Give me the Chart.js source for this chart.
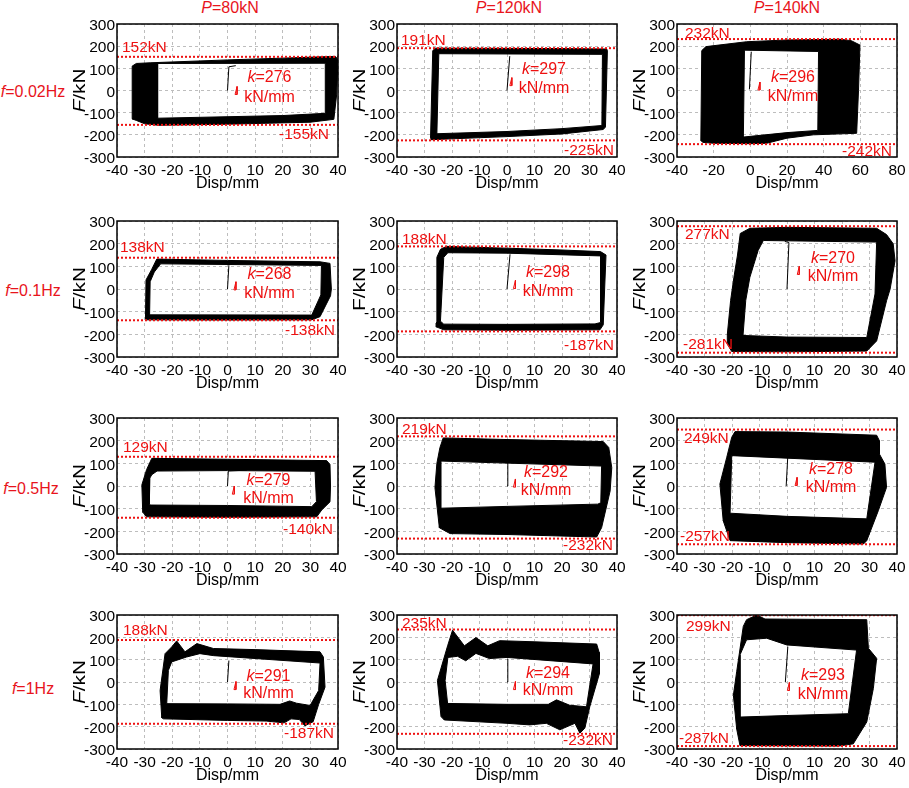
<!DOCTYPE html>
<html>
<head>
<meta charset="utf-8">
<script src="https://cdn.jsdelivr.net/npm/chart.js@4.4.1/dist/chart.umd.min.js"></script>
<style>
  body { margin: 0; background: #fff; width: 909px; height: 788px; position: relative; overflow: hidden;
         font-family: 'Liberation Sans', Arial, sans-serif; }
  canvas { position: absolute; }
  .lab { position: absolute; color: #e8141c; font-size: 16px; white-space: nowrap; transform: translate(-50%, -50%); }
</style>
</head>
<body>
<div class="lab" style="left:230px;top:8px"><i>P</i>=80kN</div>
<div class="lab" style="left:509px;top:8px"><i>P</i>=120kN</div>
<div class="lab" style="left:787px;top:8px"><i>P</i>=140kN</div>
<div class="lab" style="left:33px;top:92px"><i>f</i>=0.02Hz</div>
<div class="lab" style="left:33px;top:291px"><i>f</i>=0.1Hz</div>
<div class="lab" style="left:31px;top:489px"><i>f</i>=0.5Hz</div>
<div class="lab" style="left:33px;top:689px"><i>f</i>=1Hz</div>

<script>
// hysteresis loops of the damper, rows = frequency, columns = axial load P
const loads = [80, 120, 140];
const freqs = ['0.02', '0.1', '0.5', '1'];

// peak forces (kN) marked by the red dotted lines
const peakPos = [[152, 191, 232], [138, 188, 277], [129, 219, 249], [188, 235, 299]];
const peakNeg = [[-155, -225, -242], [-138, -187, -281], [-140, -232, -257], [-187, -232, -287]];
// initial stiffness kN/mm
const kValues = [[276, 297, 296], [268, 298, 270], [279, 292, 278], [291, 294, 293]];

// displacement axis range and tick step
const dispMin = [[-40, -40, -40], [-40, -40, -40], [-40, -40, -40], [-40, -40, -40]];
const dispMax = [[40, 40, 80], [40, 40, 40], [40, 40, 40], [40, 40, 40]];
const dispStep = [[10, 10, 20], [10, 10, 10], [10, 10, 10], [10, 10, 10]];

// outline of the black band (outer edge) and of the white hole (inner edge), [disp, force]
const p80f002Out = [[-34.5, -128], [-34.5, 110], [-33, 122], [-28, 125], [0, 138], [20, 146], [39, 154], [40, 140], [39.5, -20], [38.5, -130], [30, -143], [0, -152], [-25, -157], [-30, -150], [-33, -135]];
const p80f002In = [[-25.3, 122], [35.4, 123], [35.4, -103], [20, -113], [-25.3, -125]];
const p120f002Out = [[-27.8, -210], [-27, 180], [-26, 191], [0, 190], [20, 189], [36.3, 187], [36.5, 178], [35.8, -165], [35, -176], [20, -196], [0, -208], [-20, -218], [-27.6, -222]];
const p120f002In = [[-24.8, 166], [34.7, 163], [34.5, -158], [20, -172], [0, -185], [-25.5, -195]];
const p140f002Out = [[-27, -225], [-26.5, 180], [-24.2, 198], [-2, 220], [20, 228], [48.9, 231], [55, 225], [59.8, 205], [59, 0], [58, -193], [34.4, -200], [20, -215], [8.9, -238], [0, -240], [-20, -238], [-26, -234]];
const p140f002In = [[-3.2, 182], [37.2, 176], [36.8, -180], [20, -190], [-3.8, -210]];

const p80f01Out = [[-29.7, -132], [-29.5, 40], [-27.5, 85], [-25.6, 132], [0, 126], [33.5, 120], [37.1, 113], [37.6, 0], [37.3, -30], [33.5, -122], [30.5, -136], [0, -137], [-29.3, -136]];
const p80f01In = [[-28.2, -114], [-28, 32], [-26.5, 75], [-24.2, 111], [34, 104], [33.8, -26], [30.5, -115]];
const p120f01Out = [[-25.8, -150], [-25.5, 140], [-24.2, 175], [-22, 188], [0, 180], [20, 172], [34, 165], [36, 150], [35.5, 0], [35, -158], [33.8, -180], [0, -182], [-23, -180], [-25.5, -168]];
const p120f01In = [[-24.2, -142], [-23, 140], [-21.5, 160], [0, 158], [34, 146], [34, -148], [32, -154], [0, -156], [-23, -155]];
const p140f01Out = [[-21.7, -200], [-20.5, -50], [-19.3, 52], [-18, 150], [-17, 245], [-13.5, 268], [0, 272], [32.6, 268], [36.2, 240], [38.6, 200], [39.3, 125], [37.5, 0], [36.2, -52], [32.6, -229], [29, -274], [0, -277], [-20.1, -276], [-21.8, -240]];
const p140f01In = [[-16, -205], [-15, -50], [-13.5, 52], [-10.5, 170], [-8.6, 214], [32.6, 207], [32, -22], [29, -214], [0, -212]];

const p80f05Out = [[-30.7, -115], [-31, 5], [-29.3, 72], [-27.4, 122], [0, 118], [35.9, 112], [37.1, 95], [37.3, 0], [37.1, -70], [34.1, -106], [32.3, -136], [0, -138], [-29.3, -136]];
const p80f05In = [[-28.3, -80], [-28.1, 35], [-27.4, 50], [-25.5, 66], [0, 68], [31.7, 65], [32.2, -69], [30.5, -91], [0, -86], [-28, -84]];
const p120f05Out = [[-24.6, -184], [-26.2, -7], [-25.5, 100], [-24.4, 169], [-23.2, 212], [0, 205], [35, 196], [37, 170], [38.1, 81], [37.5, -22], [34.4, -184], [32.6, -225], [0, -214], [-20.7, -210]];
const p120f05In = [[-24.1, -98], [-24.1, 110], [34.4, 88], [34.1, -74], [33, -80], [0, -90]];
const p140f05Out = [[-23.2, -153], [-24.4, 9], [-21.9, 127], [-20.1, 215], [-18.9, 240], [0, 238], [32.6, 224], [33.6, 200], [33.6, 141], [35.6, 97], [36.2, -6], [33.2, -109], [29, -241], [27.8, -256], [0, -250], [-20.7, -241]];
const p140f05In = [[-20.7, -120], [-20.1, 134], [32, 105], [29, -145], [0, -134]];

const p80f1Out = [[-23.8, -160], [-24.4, -38], [-22.6, 127], [-20.2, 157], [-18.4, 184], [-15.4, 135], [-11.1, 172], [-5.1, 150], [10, 145], [33.5, 135], [34.7, 112], [35.3, -23], [33, -100], [31, -178], [28, -196], [26, -168], [23, -165], [20.5, -183], [14, -175], [0, -172], [-23.2, -165]];
const p80f1In = [[-22, -97], [-21.4, 52], [-20.2, 90], [-14.8, 112], [-10, 127], [-5, 118], [33.5, 85], [33, -38], [29.9, -105], [25, -95], [22.5, -85], [19, -100], [0, -98]];
const p120f1Out = [[-22.8, -170], [-24, -155], [-25.3, 7], [-21.6, 162], [-19.8, 232], [-15.5, 162], [-11.3, 199], [-7, 162], [-2.7, 185], [10, 180], [32.6, 170], [33.5, 133], [33.6, 37], [30.1, -111], [28.3, -207], [26.5, -229], [24.7, -185], [19.2, -214], [14.3, -185], [8.2, -192], [0, -185]];
const p120f1In = [[-21.6, -96], [-22.5, 7], [-21.5, 110], [-18, 115], [-15, 95], [-11.3, 128], [-6.4, 105], [0, 110], [31.3, 81], [28.9, -111], [22.8, -104], [18, -80], [15, -100], [0, -100]];
const p140f1Out = [[-18.3, -210], [-19.5, -59], [-18.3, 46], [-15.9, 249], [-14.7, 279], [-11, 300], [-8, 282], [29, 279], [29.6, 151], [32.6, 106], [31.4, -29], [29, -179], [24.1, -277], [18.7, -287], [-17.1, -285]];
const p140f1In = [[-17.1, -157], [-17.1, 121], [-14.7, 189], [-7.4, 196], [-0.1, 166], [25.3, 143], [22.3, -142], [0, -150]];

// first loading branch used for the stiffness k
const kLines = [
  [[[0, 0], [0.5, 107], [3, 112]], [[0, 0], [1, 155]], [[-0.5, 5], [0.5, 175]]],
  [[[0, 0], [0.5, 105]], [[0, 0], [1.1, 153]], [[0, 0], [0.7, 205], [-0.8, 210]]],
  [[[0, 0], [0.3, 66], [7, 70]], [[0, 0], [0.3, 110]], [[-0.3, 0], [0.3, 134]]],
  [[[0, 0], [0.5, 96]], [[0, 0], [0.3, 104]], [[-0.6, 0], [0.3, 158]]]
];
// small red slope mark next to the k line
const slopeMark = [
  [[3.1, 0], [1.4, 40], [4.7, 20]],
  [[2.7, 14], [2.7, 20], [4.1, 82]],
  [[2.1, -18], [2.7, 13], [3.3, 20]],
  [[2.7, -16], [2.7, -16], [0.5, -20]]
];

const bandOuter = [
  [p80f002Out, p120f002Out, p140f002Out],
  [p80f01Out, p120f01Out, p140f01Out],
  [p80f05Out, p120f05Out, p140f05Out],
  [p80f1Out, p120f1Out, p140f1Out]
];
const bandInner = [
  [p80f002In, p120f002In, p140f002In],
  [p80f01In, p120f01In, p140f01In],
  [p80f05In, p120f05In, p140f05In],
  [p80f1In, p120f1In, p140f1In]
];

// ---- layout ----
const colLeft = [117, 397, 677];
const colWidth = [221, 220, 220];
const rowTop = [24, 221, 418, 615];
const rowHeight = [133, 136, 136, 134];
// peak label placement: [align, dx from plot edge, dy from dotted line] for the + and - label
const peakLabelPos = [
  [['L', 5, -9], ['R', -9, 10]], [['L', 4, -7], ['R', -3, 10]], [['L', 8, -5], ['R', -5, 8]],
  [['L', 3, -10], ['R', -3, 10]], [['L', 5, -7], ['R', -3, 14]], [['L', 8, 9], ['L', 6, -8]],
  [['L', 6, -9], ['R', -5, 12]], [['L', 5, -7], ['R', -4, 7]], [['L', 7, 9], ['L', 3, -8]],
  [['L', 6, -9], ['R', -4, 10]], [['L', 5, -6], ['R', -4, 7]], [['L', 9, 11], ['L', 2, -7]]
];
// k label: dx from plot centre, dy of first and second line
const kLabelPos = [
  [42, -13, 7], [37, -21, -2], [6, -13, 6],
  [42, -14, 5], [41, -16, 3], [46, -30, -12],
  [41, -5, 13], [39, -13, 5], [44, -16, 2],
  [41, -5, 12], [41, -8, 9], [36, -6, 13]
];

const RED = '#ee1111';
const FAMILY = "'Liberation Sans', Arial, sans-serif";
Chart.defaults.font.family = FAMILY;
Chart.defaults.color = '#000';

function drawParts(ctx, parts, x, y, size, align, stretch) {
  let total = 0;
  const widths = parts.map(([t, it]) => {
    ctx.font = (it ? 'italic ' : '') + size + 'px ' + FAMILY;
    const w = ctx.measureText(t).width;
    total += w;
    return w;
  });
  ctx.save();
  ctx.translate(x, y);
  ctx.scale(stretch || 1, 1);
  ctx.textAlign = 'left';
  ctx.textBaseline = 'middle';
  let xx = align === 'L' ? 0 : align === 'R' ? -total : -total / 2;
  parts.forEach(([t, it], i) => {
    ctx.font = (it ? 'italic ' : '') + size + 'px ' + FAMILY;
    ctx.fillText(t, xx, 0);
    xx += widths[i];
  });
  ctx.restore();
}

const deco = {
  id: 'deco',
  afterDraw(chart, args, o) {
    const {ctx, chartArea: a, scales: {y}} = chart;
    const r = o.row, c = o.col, n = r * 3 + c;
    ctx.save();
    ctx.strokeStyle = '#000';
    ctx.lineWidth = 1.5;
    ctx.strokeRect(a.left, a.top, a.right - a.left, a.bottom - a.top);

    ctx.fillStyle = '#000';
    drawParts(ctx, [['Disp/mm', false]], (a.left + a.right) / 2, a.bottom + 27, 16, 'C');
    ctx.save();
    ctx.translate(a.left - 36, (a.top + a.bottom) / 2);
    ctx.rotate(-Math.PI / 2);
    const yTitle = (r === 1 && c === 1) ? [['F/kN', false]] : [['F', true], ['/kN', false]];
    drawParts(ctx, yTitle, 0, 0, 16, 'C', 1.3);
    ctx.restore();

    ctx.fillStyle = RED;
    [peakPos[r][c], peakNeg[r][c]].forEach((v, i) => {
      const [al, dx, dy] = peakLabelPos[n][i];
      const x = al === 'L' ? a.left + dx : a.right + dx;
      drawParts(ctx, [[v + 'kN', false]], x, y.getPixelForValue(v) + dy, 15.5, al);
    });
    const [kdx, kdy1, kdy2] = kLabelPos[n];
    const cx = (a.left + a.right) / 2 + kdx, cy = (a.top + a.bottom) / 2;
    drawParts(ctx, [['k', true], ['=' + kValues[r][c], false]], cx, cy + kdy1, 16, 'C');
    drawParts(ctx, [['kN/mm', false]], cx, cy + kdy2, 16, 'C');
    ctx.restore();
  }
};

function pts(a) { return a.map(p => ({x: p[0], y: p[1]})); }
function signedArea(a) {
  let s = 0;
  for (let i = 0; i < a.length; i++) {
    const p = a[i], q = a[(i + 1) % a.length];
    s += p[0] * q[1] - q[0] * p[1];
  }
  return s;
}
// outer edge + inner edge with opposite winding -> band with a hole
function bandPath(outer, inner, xSpan) {
  let inn = inner.slice();
  if (Math.sign(signedArea(outer)) === Math.sign(signedArea(inn))) inn.reverse();
  let best = 0, bd = Infinity;
  inn.forEach((p, i) => {
    const d = ((p[0] - outer[0][0]) / xSpan) ** 2 + ((p[1] - outer[0][1]) / 600) ** 2;
    if (d < bd) { bd = d; best = i; }
  });
  inn = inn.slice(best).concat(inn.slice(0, best));
  return [...outer, outer[0], ...inn, inn[0], outer[0]];
}

function makePanel(r, c) {
  const L = colLeft[c], T = rowTop[r], W = colWidth[c], H = rowHeight[r];
  const cv = document.createElement('canvas');
  cv.width = W + 84;
  cv.height = H + 52;
  cv.style.left = (L - 70) + 'px';
  cv.style.top = (T - 12) + 'px';
  document.body.appendChild(cv);

  const xmin = dispMin[r][c], xmax = dispMax[r][c];
  const xSpan = xmax - xmin;
  const [mx, my] = slopeMark[r][c];
  const mw = xSpan / 110;
  const mark = [[mx - mw / 2, my - 18], [mx + mw / 2, my + 18], [mx + mw / 2, my - 18], [mx - mw / 2, my - 18]];

  const datasets = [
    {data: pts([[xmin, peakPos[r][c]], [xmax, peakPos[r][c]]]), borderColor: RED, borderWidth: 2, borderDash: [2, 2], order: 0},
    {data: pts([[xmin, peakNeg[r][c]], [xmax, peakNeg[r][c]]]), borderColor: RED, borderWidth: 2, borderDash: [2, 2], order: 0},
    {data: pts(kLines[r][c]), borderColor: '#000', borderWidth: 1, order: 1},
    {data: pts(mark), borderColor: RED, borderWidth: 1, order: 1},
    {data: pts(bandPath(bandOuter[r][c], bandInner[r][c], xSpan)), borderColor: '#000', backgroundColor: '#000',
     borderWidth: 1, fill: 'shape', order: 2}
  ];
  datasets.forEach(d => Object.assign(d, {showLine: true, pointRadius: 0, tension: 0}));

  new Chart(cv, {
    type: 'scatter',
    data: {datasets},
    options: {
      responsive: false,
      animation: false,
      events: [],
      layout: {padding: {left: 30, top: 12, right: 14, bottom: 0}},
      plugins: {legend: {display: false}, tooltip: {enabled: false}, deco: {row: r, col: c}},
      scales: {
        x: {
          min: xmin, max: xmax,
          afterFit(s) { s.height = 40; },
          ticks: {stepSize: dispStep[r][c], font: {size: 15.5}, color: '#000', padding: 4, maxRotation: 0, autoSkip: false},
          grid: {color: '#bdbdbd', drawTicks: false, lineWidth: 1},
          border: {display: false, dash: [3, 3]}
        },
        y: {
          min: -300, max: 300,
          afterFit(s) { s.width = 40; },
          ticks: {stepSize: 100, font: {size: 15.5}, color: '#000', padding: 2, labelOffset: 2},
          grid: {color: '#bdbdbd', drawTicks: false, lineWidth: 1},
          border: {display: false, dash: [3, 3]}
        }
      }
    },
    plugins: [deco]
  });
}

for (let r = 0; r < freqs.length; r++) {
  for (let c = 0; c < loads.length; c++) makePanel(r, c);
}
</script>
</body>
</html>
